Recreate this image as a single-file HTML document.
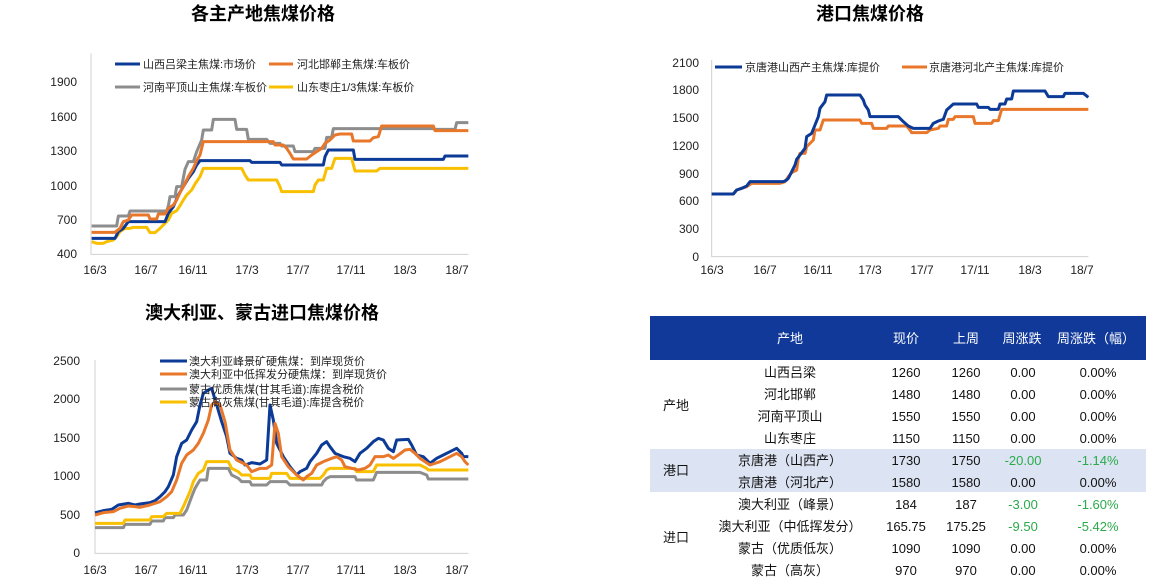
<!DOCTYPE html>
<html><head><meta charset="utf-8"><style>
html,body{margin:0;padding:0;background:#fff;}
svg{display:block;font-family:"Liberation Sans","Noto Sans CJK SC",sans-serif;}
.t{font-size:18px;font-weight:bold;fill:#000;}
.tk{font-size:12px;fill:#222;}
.lg{font-size:11px;fill:#222;}
.ax{stroke:#d0d0d0;stroke-width:1;fill:none;vector-effect:non-scaling-stroke;}
.s{fill:none;stroke-width:3;stroke-linejoin:round;vector-effect:non-scaling-stroke;}
.b{stroke:#0c3a97}.o{stroke:#e8772a}.g{stroke:#8d8d8d}.y{stroke:#f8c000}
.tb{font-size:13px;fill:#111;text-anchor:middle;}
.tbl{font-size:13px;fill:#111;}
.gr{fill:#2aab4a}
.hd{font-size:13px;fill:#fff;text-anchor:middle;}
</style></head><body>
<svg width="1160" height="584" viewBox="0 0 1160 584">
<!-- Titles -->
<text class="t" x="263" y="20" text-anchor="middle">各主产地焦煤价格</text>
<text class="t" x="870" y="20" text-anchor="middle">港口焦煤价格</text>
<text class="t" x="262" y="319" text-anchor="middle">澳大利亚、蒙古进口焦煤价格</text>

<!-- Chart 1 -->
<g class="tk" text-anchor="end">
<text x="77" y="86">1900</text><text x="77" y="121">1600</text><text x="77" y="155">1300</text>
<text x="77" y="190">1000</text><text x="77" y="224">700</text><text x="77" y="258">400</text>
</g>
<g class="tk" text-anchor="middle">
<text x="95" y="274">16/3</text><text x="146" y="274">16/7</text><text x="193" y="274">16/11</text>
<text x="247" y="274">17/3</text><text x="298" y="274">17/7</text><text x="351" y="274">17/11</text>
<text x="405" y="274">18/3</text><text x="457" y="274">18/7</text>
</g>
<g transform="translate(40,40) scale(0.33333)">
<polyline class="ax" points="153,40 153,643 1285,643"/>
<polyline class="s y" points="155,605 170,610 190,610 200,605 220,600 230,590 240,575 255,565 270,565 280,562 320,562 330,578 345,578 360,565 375,550 385,540 395,520 410,512 420,497 430,480 440,465 455,450 465,432 480,410 490,385 605,385 615,405 625,420 710,420 720,440 725,455 820,455 825,435 835,420 850,420 860,385 875,385 885,355 935,355 945,393 1010,393 1020,385 1285,385"/>
<polyline class="s b" points="155,595 225,595 235,575 250,565 265,545 375,545 385,520 400,500 415,465 430,440 445,415 460,395 470,375 480,362 630,362 635,367 720,367 725,375 850,375 855,350 865,330 940,330 945,358 1210,358 1215,348 1285,348"/>
<polyline class="s g" points="155,558 230,558 235,528 265,528 270,513 380,513 385,498 390,470 405,470 410,440 425,440 435,388 445,365 460,365 470,335 485,300 490,270 515,270 520,238 585,238 590,268 620,268 625,298 680,298 690,310 720,310 725,318 760,318 765,335 820,335 825,325 855,325 860,292 875,292 880,266 1180,266 1185,268 1245,268 1250,248 1285,248"/>
<polyline class="s o" points="155,577 225,577 240,565 250,545 265,540 275,525 325,525 330,537 350,537 355,522 375,522 385,505 400,495 410,480 420,458 430,440 445,410 460,385 470,362 480,345 490,305 700,305 705,315 730,315 740,325 750,340 760,357 800,357 815,345 830,335 845,325 855,310 870,300 885,285 900,282 935,282 940,303 990,303 1000,293 1015,290 1025,258 1180,258 1185,272 1285,272"/>
</g>
<line x1="115" y1="64" x2="140" y2="64" class="s b"/><text class="lg" x="143" y="68">山西吕梁主焦煤:市场价</text>
<line x1="269" y1="64" x2="293" y2="64" class="s o"/><text class="lg" x="297" y="68">河北邯郸主焦煤:车板价</text>
<line x1="115" y1="87" x2="140" y2="87" class="s g"/><text class="lg" x="143" y="91">河南平顶山主焦煤:车板价</text>
<line x1="269" y1="87" x2="293" y2="87" class="s y"/><text class="lg" x="297" y="91">山东枣庄1/3焦煤:车板价</text>

<!-- Chart 3 -->
<g class="tk" text-anchor="end">
<text x="699" y="67">2100</text><text x="699" y="94">1800</text><text x="699" y="122">1500</text>
<text x="699" y="150">1200</text><text x="699" y="178">900</text><text x="699" y="205">600</text>
<text x="699" y="233">300</text><text x="699" y="261">0</text>
</g>
<g class="tk" text-anchor="middle">
<text x="712" y="274">16/3</text><text x="765" y="274">16/7</text><text x="818" y="274">16/11</text>
<text x="870" y="274">17/3</text><text x="922" y="274">17/7</text><text x="975" y="274">17/11</text>
<text x="1030" y="274">18/3</text><text x="1082" y="274">18/7</text>
</g>
<g transform="translate(660,40) scale(0.33333)">
<polyline class="ax" points="155,60 155,650 1285,650"/>
<polyline class="s o" points="155,462 220,462 230,450 245,445 260,440 275,430 360,430 375,425 385,410 395,398 410,390 415,355 420,340 435,340 440,320 460,300 465,270 480,270 490,240 600,240 605,250 635,250 640,265 680,265 685,258 740,258 750,270 755,278 800,278 810,270 835,265 840,258 860,258 865,238 880,238 885,230 940,230 945,250 995,250 1000,242 1015,242 1025,208 1285,208"/>
<polyline class="s b" points="155,462 220,462 230,450 245,445 260,438 270,425 370,425 380,420 385,415 395,395 405,375 410,358 420,345 435,325 440,290 455,280 465,255 475,230 480,205 495,185 500,165 600,165 610,180 615,195 625,210 630,230 715,230 730,245 745,258 760,265 810,265 820,250 835,243 850,238 860,210 880,192 950,192 955,202 985,202 990,208 1015,208 1020,192 1035,192 1040,177 1055,177 1060,153 1155,153 1165,170 1210,170 1215,160 1270,160 1285,172"/>
</g>
<line x1="715" y1="67" x2="742" y2="67" class="s b"/><text class="lg" x="745" y="71">京唐港山西产主焦煤:库提价</text>
<line x1="902" y1="67" x2="927" y2="67" class="s o"/><text class="lg" x="929" y="71">京唐港河北产主焦煤:库提价</text>

<!-- Chart 2 -->
<g class="tk" text-anchor="end">
<text x="80" y="365">2500</text><text x="80" y="403">2000</text><text x="80" y="442">1500</text>
<text x="80" y="480">1000</text><text x="80" y="519">500</text><text x="80" y="557">0</text>
</g>
<g class="tk" text-anchor="middle">
<text x="95" y="574">16/3</text><text x="146" y="574">16/7</text><text x="193" y="574">16/11</text>
<text x="247" y="574">17/3</text><text x="298" y="574">17/7</text><text x="351" y="574">17/11</text>
<text x="405" y="574">18/3</text><text x="457" y="574">18/7</text>
</g>
<g transform="translate(40,340) scale(0.33333)">
<polyline class="ax" points="165,60 165,640 1285,640"/>
<polyline class="s g" points="165,563 250,563 255,553 330,553 335,543 370,543 375,533 400,533 405,525 430,525 440,510 455,470 465,445 480,420 500,420 505,385 565,385 575,405 595,415 605,425 630,425 635,435 680,435 690,425 740,425 750,435 845,435 850,425 860,415 870,410 945,410 950,420 1000,420 1010,397 1140,397 1160,405 1165,417 1285,417"/>
<polyline class="s y" points="165,550 250,550 255,540 330,540 335,530 370,530 380,520 420,520 430,500 450,455 460,425 475,400 490,390 500,365 565,365 575,385 595,395 605,405 630,405 635,415 690,415 695,400 740,400 750,415 840,415 850,405 860,390 870,385 945,385 950,395 1000,395 1010,375 1140,375 1160,385 1165,390 1285,390"/>
<polyline class="s b" points="165,518 190,512 215,508 235,495 265,490 285,495 300,492 330,488 345,482 360,470 375,455 385,440 400,405 410,350 425,310 440,300 455,270 470,245 480,195 490,160 505,150 515,145 530,195 545,245 560,290 570,340 590,355 605,360 615,375 635,368 660,372 680,360 690,195 700,240 710,310 730,350 750,380 770,405 780,395 800,385 810,365 830,340 845,315 860,305 870,320 885,340 910,350 930,355 945,365 960,340 980,325 1000,305 1015,295 1030,300 1045,325 1060,335 1070,300 1105,298 1115,315 1130,345 1150,350 1170,370 1190,355 1210,345 1230,335 1250,325 1265,340 1270,350 1285,350"/>
<polyline class="s o" points="165,525 190,518 220,515 240,505 265,498 285,500 300,502 330,495 360,485 380,470 395,455 410,420 425,370 440,345 460,330 475,310 490,280 505,240 515,195 525,185 540,195 555,245 570,330 590,360 620,375 635,395 660,385 680,385 695,375 705,250 715,280 725,350 745,380 770,405 790,420 800,410 815,400 830,375 850,365 875,355 890,350 905,360 915,380 935,385 955,390 975,385 990,375 1005,350 1030,350 1045,345 1060,355 1075,345 1095,330 1110,328 1125,340 1140,355 1170,375 1200,365 1230,350 1250,340 1265,350 1275,365 1285,375"/>
</g>
<line x1="160" y1="361" x2="187" y2="361" class="s b"/><text class="lg" x="189" y="365">澳大利亚峰景矿硬焦煤：到岸现货价</text>
<line x1="160" y1="374" x2="187" y2="374" class="s o"/><text class="lg" x="189" y="378">澳大利亚中低挥发分硬焦煤：到岸现货价</text>
<line x1="160" y1="389" x2="187" y2="389" class="s g"/><text class="lg" x="189" y="393">蒙古优质焦煤(甘其毛道):库提含税价</text>
<line x1="160" y1="402" x2="187" y2="402" class="s y"/><text class="lg" x="189" y="406">蒙古高灰焦煤(甘其毛道):库提含税价</text>

<!-- Table -->
<rect x="650" y="316" width="496" height="44" fill="#10399a"/>
<rect x="650" y="449" width="496" height="43" fill="#dce3f2"/>
<g class="hd">
<text x="790" y="343">产地</text><text x="906" y="343">现价</text><text x="966" y="343">上周</text>
<text x="1022" y="343">周涨跌</text><text x="1096" y="343">周涨跌（幅）</text>
</g>
<text class="tbl" x="663" y="410">产地</text>
<text class="tbl" x="663" y="475">港口</text>
<text class="tbl" x="663" y="542">进口</text>
<g class="tb">
<text x="790" y="377">山西吕梁</text><text x="906" y="377">1260</text><text x="966" y="377">1260</text><text x="1023" y="377">0.00</text><text x="1098" y="377">0.00%</text>
<text x="790" y="399">河北邯郸</text><text x="906" y="399">1480</text><text x="966" y="399">1480</text><text x="1023" y="399">0.00</text><text x="1098" y="399">0.00%</text>
<text x="790" y="421">河南平顶山</text><text x="906" y="421">1550</text><text x="966" y="421">1550</text><text x="1023" y="421">0.00</text><text x="1098" y="421">0.00%</text>
<text x="790" y="443">山东枣庄</text><text x="906" y="443">1150</text><text x="966" y="443">1150</text><text x="1023" y="443">0.00</text><text x="1098" y="443">0.00%</text>
<text x="790" y="465">京唐港（山西产）</text><text x="906" y="465">1730</text><text x="966" y="465">1750</text><text x="1023" y="465" class="gr">-20.00</text><text x="1098" y="465" class="gr">-1.14%</text>
<text x="790" y="487">京唐港（河北产）</text><text x="906" y="487">1580</text><text x="966" y="487">1580</text><text x="1023" y="487">0.00</text><text x="1098" y="487">0.00%</text>
<text x="790" y="509">澳大利亚（峰景）</text><text x="906" y="509">184</text><text x="966" y="509">187</text><text x="1023" y="509" class="gr">-3.00</text><text x="1098" y="509" class="gr">-1.60%</text>
<text x="790" y="531">澳大利亚（中低挥发分）</text><text x="906" y="531">165.75</text><text x="966" y="531">175.25</text><text x="1023" y="531" class="gr">-9.50</text><text x="1098" y="531" class="gr">-5.42%</text>
<text x="790" y="553">蒙古（优质低灰）</text><text x="906" y="553">1090</text><text x="966" y="553">1090</text><text x="1023" y="553">0.00</text><text x="1098" y="553">0.00%</text>
<text x="790" y="575">蒙古（高灰）</text><text x="906" y="575">970</text><text x="966" y="575">970</text><text x="1023" y="575">0.00</text><text x="1098" y="575">0.00%</text>
</g>
</svg>
</body></html>
